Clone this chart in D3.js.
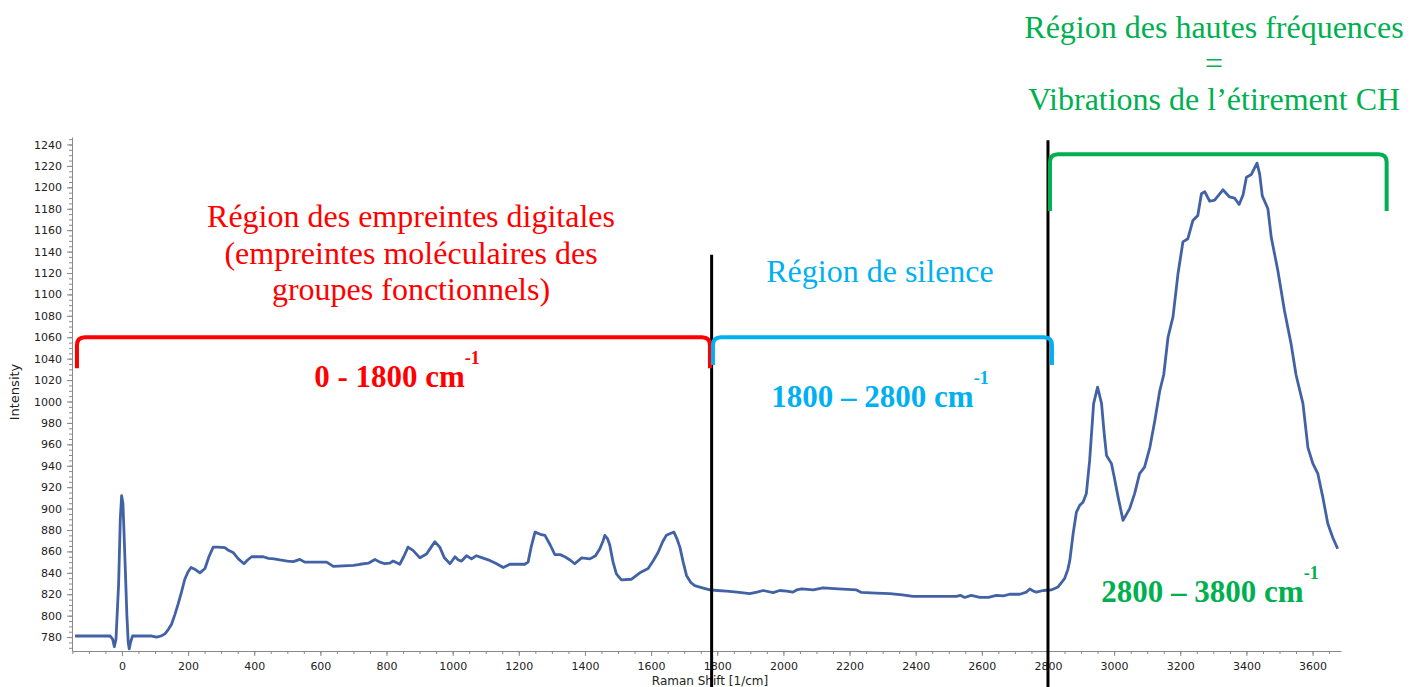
<!DOCTYPE html>
<html>
<head>
<meta charset="utf-8">
<script src="https://cdn.jsdelivr.net/npm/d3@7"></script>
<style>
  body { margin: 0; background: #fff; }
  svg { display: block; }
  .axis path, .axis line { stroke: #8a8a8a; }
  .axis text { font-family: "DejaVu Sans", Verdana, sans-serif; font-size: 11px; fill: #222; }
  .serif { font-family: "Liberation Serif", "Times New Roman", serif; }
</style>
</head>
<body>
<div id="chart"></div>
<script>

// Raman shift (1/cm)
var shift = [
  -142, -100, -60, -36, -28, -23, -18, -10, -5, -1, 3, 6, 10, 15, 19, 22, 26, 32, 60, 90,
  105, 118, 130, 140, 150, 160, 170, 180, 190, 200, 209, 222, 236, 251, 263, 276, 290, 311, 322, 336,
  352, 369, 380, 392, 410, 427, 443, 460, 478, 500, 518, 538, 553, 580, 600, 619, 639, 669, 700, 720,
  745, 765, 780, 795, 810, 820, 840, 852, 865, 880, 901, 921, 935, 946, 961, 975, 992, 1007, 1017, 1027,
  1042, 1057, 1072, 1090, 1112, 1130, 1153, 1173, 1200, 1218, 1228, 1238, 1249, 1265, 1279, 1295, 1309, 1325, 1339, 1355,
  1369, 1390, 1415, 1432, 1445, 1455, 1460, 1468, 1475, 1485, 1495, 1510, 1540, 1566, 1591, 1606, 1621, 1635, 1646, 1660,
  1669, 1678, 1687, 1697, 1707, 1720, 1732, 1755, 1778, 1800, 1828, 1860, 1898, 1920, 1939, 1969, 1989, 2010, 2029, 2040,
  2055, 2090, 2120, 2166, 2221, 2236, 2280, 2322, 2360, 2392, 2450, 2523, 2535, 2548, 2568, 2594, 2620, 2644, 2665, 2684,
  2715, 2735, 2745, 2755, 2765, 2785, 2810, 2830, 2850, 2860, 2866, 2876, 2886, 2896, 2906, 2916, 2926, 2938, 2950, 2962,
  2970, 2977, 2992, 3000, 3012, 3027, 3047, 3062, 3077, 3092, 3108, 3123, 3138, 3150, 3163, 3178, 3193, 3208, 3223, 3238,
  3253, 3264, 3274, 3289, 3304, 3329, 3349, 3364, 3378, 3390, 3400, 3415, 3432, 3440, 3448, 3465, 3475, 3495, 3515, 3535,
  3550, 3571, 3586, 3601, 3616, 3631, 3646, 3661, 3676
];

var intensity = [
  781, 781, 781, 781, 778, 771, 778, 830, 890, 912, 905, 880, 845, 800, 775, 769, 775, 781, 781, 781,
  780, 781, 783, 787, 792, 801, 811, 822, 834, 841, 845, 843, 840, 844, 855, 864, 864, 863.5, 861, 859,
  853, 848.5, 852, 855, 855, 855, 853.5, 853, 852, 851, 850.5, 852.5, 850, 850, 850, 850, 846, 846.5, 847, 848,
  849, 852.5, 850, 848.5, 849, 851, 848, 855, 864, 861, 854, 857.5, 864, 869, 864, 854, 848.5, 855, 852, 851,
  856, 853, 856, 854, 851.6, 849, 845, 848, 848, 848, 850, 865, 878, 876, 875, 866, 857, 857, 855, 852,
  848.5, 854, 853, 856, 862.5, 870, 875, 872, 866, 850, 839, 833.5, 834, 840, 844, 851, 859, 869, 875, 877,
  878, 872, 864, 850, 837.6, 831, 828, 826, 824, 823.5, 823, 822, 820.5, 822, 823.5, 821.5, 823.5, 823, 822, 824,
  825, 824, 826, 825, 824, 821.7, 821, 820.5, 819.5, 818, 818, 818, 819, 817, 819, 817, 817, 819, 818.5, 820,
  820, 822, 825, 823, 822, 823.5, 824, 826.7, 834.5, 843, 851.6, 876.5, 896.7, 903, 906, 914, 945, 998, 1013.4, 998,
  970, 949.6, 942, 930, 910.7, 889, 900, 914, 932.6, 938.7, 957, 982, 1010, 1025, 1060, 1079, 1119, 1149, 1152, 1169,
  1173.7, 1194, 1196, 1187, 1188, 1197.7, 1191, 1190, 1184, 1193, 1209.5, 1212, 1222.6, 1212.6, 1192, 1180, 1153.5, 1122.4, 1085, 1054,
  1025, 998, 957, 942, 932.6, 910.7, 886, 873, 862.5
];

// tick labels
var xTicks = d3.range(0, 3601, 200);
var xMinor = d3.range(-150, 3651, 50);
var yTicks = d3.range(780, 1241, 20);
var yMinor = d3.range(770, 1246, 5);

// spectral regions (1/cm): lower, upper bound of each bracket, and its height in intensity units
var regionName = ["fingerprint", "silence", "CH"];
var regionFrom = [-136, 1787, 2806];
var regionTo = [1778, 2812, 3824];
var regionTop = [1060, 1060, 1231];
var regionFoot = [1031, 1034, 1178];
var regionColor = ["#ff0000", "#00b0f0", "#00b050"];

// separators
var sepX = [1783, 2800];
var sepTop = [1137, 1244];

var W = 1420, H = 687;
var svg = d3.select("#chart").append("svg")
    .attr("width", W)
    .attr("height", H);

var x = d3.scaleLinear().domain([-151, 3686]).range([72, 1341]);
var y = d3.scaleLinear().domain([767, 1247]).range([651, 137]);

// minor ticks first, under the major ones
svg.append("g")
    .attr("class", "axis")
    .attr("transform", "translate(0,651)")
    .call(d3.axisBottom(x).tickValues(xMinor).tickSize(3).tickFormat(""))
    .call(g => g.select(".domain").remove());
svg.append("g")
    .attr("class", "axis")
    .attr("transform", "translate(72,0)")
    .call(d3.axisLeft(y).tickValues(yMinor).tickSize(3).tickFormat(""))
    .call(g => g.select(".domain").remove());

svg.append("g")
    .attr("class", "axis")
    .attr("transform", "translate(0,651)")
    .call(d3.axisBottom(x).tickValues(xTicks).tickFormat(d3.format("d")).tickSize(5).tickSizeOuter(0).tickPadding(6));
svg.append("g")
    .attr("class", "axis")
    .attr("transform", "translate(72,0)")
    .call(d3.axisLeft(y).tickValues(yTicks).tickFormat(d3.format("d")).tickSize(5).tickSizeOuter(0).tickPadding(5));

svg.append("text")
    .attr("x", 710).attr("y", 685)
    .attr("text-anchor", "middle")
    .style("font-family", "DejaVu Sans, Verdana, sans-serif")
    .style("font-size", "12px")
    .attr("fill", "#222")
    .text("Raman Shift [1/cm]");

svg.append("text")
    .attr("transform", "translate(19,392) rotate(-90)")
    .attr("text-anchor", "middle")
    .style("font-family", "DejaVu Sans, Verdana, sans-serif")
    .style("font-size", "13px")
    .attr("fill", "#222")
    .text("Intensity");

// spectrum
var pts = shift.map(function (s, i) { return [s, intensity[i]]; });
var line = d3.line()
    .x(function (d) { return x(d[0]); })
    .y(function (d) { return y(d[1]); });

svg.append("path")
    .datum(pts)
    .attr("fill", "none")
    .attr("stroke", "#4262a6")
    .attr("stroke-width", 2.8)
    .attr("stroke-linejoin", "round")
    .attr("d", line);

// black separators
svg.selectAll(".sep")
    .data(sepX)
    .enter().append("line")
    .attr("class", "sep")
    .attr("x1", function (d) { return x(d); })
    .attr("x2", function (d) { return x(d); })
    .attr("y1", function (d, i) { return y(sepTop[i]); })
    .attr("y2", H)
    .attr("stroke", "#000")
    .attr("stroke-width", 3);

// brackets
function bracket(i) {
    var l = x(regionFrom[i]), r = x(regionTo[i]);
    var t = y(regionTop[i]), b = y(regionFoot[i]);
    var c = 8;
    return "M" + l + "," + b +
        "L" + l + "," + (t + c) +
        "Q" + l + "," + t + " " + (l + c) + "," + t +
        "L" + (r - c) + "," + t +
        "Q" + r + "," + t + " " + r + "," + (t + c) +
        "L" + r + "," + b;
}

svg.selectAll(".bracket")
    .data(regionName)
    .enter().append("path")
    .attr("class", "bracket")
    .attr("fill", "none")
    .attr("stroke", function (d, i) { return regionColor[i]; })
    .attr("stroke-width", 4)
    .attr("d", function (d, i) { return bracket(i); });

// annotation texts
function label(lines, cx, y0, dy, color, size) {
    var t = svg.append("text")
        .attr("class", "serif")
        .attr("text-anchor", "middle")
        .attr("fill", color)
        .style("font-size", size + "px");
    lines.forEach(function (s, i) {
        t.append("tspan").attr("x", cx).attr("y", y0 + i * dy).text(s);
    });
    return t;
}

function range(txt, cx, yb, color) {
    var g = svg.append("text")
        .attr("class", "serif")
        .attr("fill", color)
        .style("font-weight", "bold")
        .style("font-size", "31px")
        .attr("x", cx).attr("y", yb)
        .attr("text-anchor", "middle");
    g.append("tspan").text(txt);
    g.append("tspan").attr("dy", -23).style("font-size", "18px").text("-1");
}

label(["Région des hautes fréquences", "=", "Vibrations de l\u2019étirement CH"], 1214, 38, 36, "#00b050", 32);
label(["Région des empreintes digitales", "(empreintes moléculaires des", "groupes fonctionnels)"], 411, 227, 36.7, "#ff0000", 32);
label(["Région de silence"], 880, 282, 36, "#00b0f0", 32);

range("0 - 1800 cm", 397, 387, "#ff0000");
range("1800 \u2013 2800 cm", 880, 407, "#00b0f0");
range("2800 \u2013 3800 cm", 1210, 602, "#00b050");

</script>
</body>
</html>
